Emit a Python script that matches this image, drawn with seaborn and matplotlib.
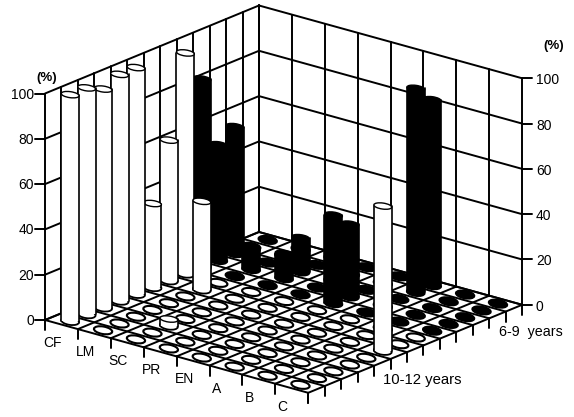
# 3D style cylinder chart, drawn on a flat axes with a parallel projection

import pandas as pd
import matplotlib
matplotlib.use('Agg')
import matplotlib.pyplot as plt
from matplotlib.patches import Ellipse, Rectangle
import seaborn as sns

categories = ['CF', 'LM', 'SC', 'PR', 'EN', 'A', 'B', 'C']
age_groups = ['10-12 years', '6-9  years']
rows_per_group = [8, 5]
pct_ticks = [0, 20, 40, 60, 80, 100]

# one list per category, front row first
cf = [100, 100, 96.5, 100, 100, 37, 62, 97.5, 83, 51, 56, 0, 0]
lm = [0, 0, 0, 0, 0, 0, 39, 0, 0, 9, 0, 0, 0]
sc = [0, 0, 3, 0, 0, 0, 0, 0, 0, 11, 15, 0, 0]
pr = [0, 0, 0, 0, 0, 0, 0, 0, 0, 0, 0, 0, 0]
en = [0, 0, 0, 0, 0, 0, 0, 0, 39, 32, 0, 0, 0]
a = [0, 0, 0, 0, 0, 0, 0, 0, 0, 0, 0, 90, 82]
b = [0, 0, 0, 0, 0, 0, 0, 0, 0, 0, 0, 0, 0]
c_vals = [0, 0, 0, 0, 0, 64, 0, 0, 0, 0, 0, 0, 0]
series = [cf, lm, sc, pr, en, a, b, c_vals]

n_cols = len(categories)
n_rows = sum(rows_per_group)


def project(col, row, pct=0):
    # parallel projection, result in picture pixels
    x = 45 + 32.9 * col + 16.46 * row
    y = 320 + 9.1 * col - 6.77 * row - 2.265 * pct
    return x, y


# wall, floor and tick lines in long form for seaborn
segments = []


def add_seg(p0, p1):
    n = len(segments)
    segments.append({'seg': n, 'x': p0[0], 'y': p0[1]})
    segments.append({'seg': n, 'x': p1[0], 'y': p1[1]})


for v in pct_ticks:
    add_seg(project(0, 0, v), project(0, n_rows, v))
    add_seg(project(0, n_rows, v), project(n_cols, n_rows, v))
    x, y = project(0, 0, v)
    add_seg((x - 10, y), (x, y))
    x, y = project(n_cols, n_rows, v)
    add_seg((x, y), (x + 10, y))

for r in range(n_rows + 1):
    add_seg(project(0, r, 0), project(0, r, 100))
    add_seg(project(0, r, 0), project(n_cols, r, 0))
    x, y = project(n_cols, r, 0)
    add_seg((x, y), (x, y + 10))

for c in range(n_cols + 1):
    add_seg(project(c, n_rows, 0), project(c, n_rows, 100))
    add_seg(project(c, 0, 0), project(c, n_rows, 0))
    x, y = project(c, 0, 0)
    add_seg((x, y), (x, y + 10))

grid = pd.DataFrame(segments)

sns.set_theme(style='white')
plt.rcParams['font.family'] = ['Liberation Sans', 'DejaVu Sans']

fig = plt.figure(figsize=(5.74, 4.17), dpi=100)
ax = fig.add_axes([0, 0, 1, 1])

sns.lineplot(data=grid, x='x', y='y', units='seg', estimator=None, sort=False,
             color='black', linewidth=1.4, legend=False, ax=ax, zorder=1)

# cylinders, far ones first
cells = [(c, r) for c in range(n_cols) for r in range(n_rows)]
cells.sort(key=lambda cell: project(cell[0], cell[1])[1])

bar_w = 18
top_h = 6
flat_w = 18.5
flat_h = 7.5
z = 2
for c, r in cells:
    value = series[c][r]
    fill = 'white' if r < rows_per_group[0] else 'black'
    x, y0 = project(c + 0.5, r + 0.5)
    x += 0.5
    _, y1 = project(c + 0.5, r + 0.5, value)

    if value > 0:
        ax.add_patch(Ellipse((x, y0), bar_w, flat_h, angle=8, facecolor=fill,
                             edgecolor='black', linewidth=1.3, zorder=z))
        ax.add_patch(Rectangle((x - bar_w / 2, y1), bar_w, y0 - y1, facecolor=fill,
                               edgecolor='none', zorder=z + 0.1))
        ax.plot([x - bar_w / 2, x - bar_w / 2], [y0, y1], color='black', lw=1.2, zorder=z + 0.2)
        ax.plot([x + bar_w / 2, x + bar_w / 2], [y0, y1], color='black', lw=1.2, zorder=z + 0.2)
        ax.add_patch(Ellipse((x, y1), bar_w, top_h, angle=8, facecolor=fill,
                             edgecolor='black', linewidth=1.0, zorder=z + 0.3))
    else:
        ax.add_patch(Ellipse((x, y1), flat_w, flat_h, angle=10, facecolor=fill,
                             edgecolor='black', linewidth=1.5, zorder=z + 0.3))
    z += 1

# labels
for v in pct_ticks:
    x, y = project(0, 0, v)
    ax.text(34, y + 1, str(v), ha='right', va='center', fontsize=10, color='black')
    x, y = project(n_cols, n_rows, v)
    ax.text(536, y + 2, str(v), ha='left', va='center', fontsize=10, color='black')

ax.text(47, 78, '(%)', ha='center', va='center', fontsize=9.5, fontweight='bold', color='black')
ax.text(554, 46, '(%)', ha='center', va='center', fontsize=9.5, fontweight='bold', color='black')

for c, name in enumerate(categories):
    x, y = project(c + 0.5, 0)
    ax.text(x - 9, y + 18.5, name, ha='center', va='center', fontsize=10, color='black')

ax.text(422.5, 380, age_groups[0], ha='center', va='center', fontsize=10.7, color='black')
ax.text(530.5, 332, age_groups[1], ha='center', va='center', fontsize=10.3, color='black')

ax.set_xlim(0, 574)
ax.set_ylim(417, 0)
ax.axis('off')

fig.savefig('out.png', dpi=100, facecolor='white')
